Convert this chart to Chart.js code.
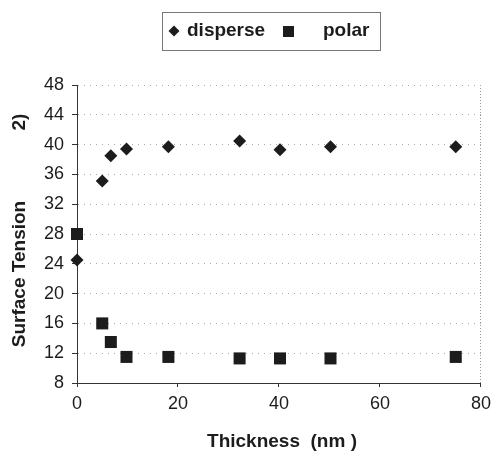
<!DOCTYPE html>
<html>
<head>
<meta charset="utf-8">
<script src="https://cdn.jsdelivr.net/npm/chart.js@4/dist/chart.umd.min.js"></script>
<style>
    html, body { margin: 0; padding: 0; background: #fff; }
    #wrap { width: 497px; height: 452px; position: relative; }
</style>
</head>
<body>
<div id="wrap"><canvas id="tensionChart"></canvas></div>
<script>
// Thickness (nm) against surface tension components
const thickness = [0, 5, 6.7, 9.8, 18.1, 32.2, 40.2, 50.2, 75];
const disperse = [24.5, 35.1, 38.5, 39.4, 39.7, 40.5, 39.3, 39.7, 39.7];
const polar = [28, 16, 13.5, 11.5, 11.5, 11.3, 11.3, 11.3, 11.5];
const yTicks = [8, 12, 16, 20, 24, 28, 32, 36, 40, 44, 48];
const xTicks = [0, 20, 40, 60, 80];

const ink = '#1c1c1c';
const font = 'Liberation Sans, Arial, sans-serif';

function toPoints(xs, ys) {
    return xs.map((x, i) => ({ x: x, y: ys[i] }));
}

// Boxed legend at the top plus the two axis titles
const decorations = {
    id: 'decorations',
    afterDraw(chart) {
        const ctx = chart.ctx;
        ctx.save();

        // legend box
        ctx.strokeStyle = '#777';
        ctx.lineWidth = 1;
        ctx.strokeRect(162.5, 12.5, 218, 38);

        ctx.fillStyle = ink;
        // diamond
        ctx.beginPath();
        ctx.moveTo(174, 25.5);
        ctx.lineTo(179.5, 31);
        ctx.lineTo(174, 36.5);
        ctx.lineTo(168.5, 31);
        ctx.closePath();
        ctx.fill();
        // square
        ctx.fillRect(283, 26, 11, 11);

        ctx.font = 'bold 19px ' + font;
        ctx.textBaseline = 'middle';
        ctx.textAlign = 'left';
        ctx.fillText('disperse', 187, 31);
        ctx.fillText('polar', 323, 31);

        // x title
        ctx.textAlign = 'center';
        ctx.fillText('Thickness  (nm )', 282, 442);

        // y title
        ctx.translate(20, 0);
        ctx.rotate(-Math.PI / 2);
        ctx.fillText('Surface Tension', -274, 0);
        ctx.fillText('2)', -122, 0);
        ctx.restore();
    }
};

const ctx = document.getElementById('tensionChart').getContext('2d');
new Chart(ctx, {
    type: 'scatter',
    data: {
        datasets: [{
            label: 'disperse',
            data: toPoints(thickness, disperse),
            pointStyle: 'rectRot',
            pointRadius: 6.5,
            pointHoverRadius: 6.5,
            backgroundColor: ink,
            borderColor: ink,
            borderWidth: 0,
            clip: false
        }, {
            label: 'polar',
            data: toPoints(thickness, polar),
            pointStyle: 'rect',
            pointRadius: 8.5,
            pointHoverRadius: 8.5,
            backgroundColor: ink,
            borderColor: ink,
            borderWidth: 0,
            clip: false
        }]
    },
    options: {
        responsive: true,
        maintainAspectRatio: false,
        animation: false,
        layout: {
            padding: { top: 85, right: 13, left: 0, bottom: 0 }
        },
        plugins: {
            legend: { display: false },
            tooltip: { enabled: false }
        },
        scales: {
            x: {
                type: 'linear',
                min: 0,
                max: 80,
                afterFit: scale => { scale.height = 69; },
                afterBuildTicks: scale => { scale.ticks = xTicks.map(v => ({ value: v })); },
                border: { display: true, color: '#333', width: 1, dash: [1, 2] },
                grid: {
                    drawOnChartArea: true,
                    color: c => c.tick && c.tick.value === 80 ? '#999' : 'rgba(0,0,0,0)',
                    tickColor: '#333',
                    tickLength: 4,
                    lineWidth: 1
                },
                ticks: {
                    color: ink,
                    padding: 6,
                    maxRotation: 0,
                    font: { family: font, size: 18 }
                }
            },
            y: {
                type: 'linear',
                min: 8,
                max: 48,
                afterFit: scale => { scale.width = 77; },
                afterBuildTicks: scale => { scale.ticks = yTicks.map(v => ({ value: v })); },
                border: { display: true, color: '#333', width: 1, dash: [1, 5] },
                grid: {
                    color: c => c.tick && c.tick.value === 8 ? 'rgba(0,0,0,0)' : '#aaa',
                    tickColor: '#333',
                    tickLength: 5,
                    lineWidth: 1
                },
                ticks: {
                    color: ink,
                    padding: 8,
                    font: { family: font, size: 18 }
                }
            }
        }
    },
    plugins: [decorations]
});
</script>
</body>
</html>
